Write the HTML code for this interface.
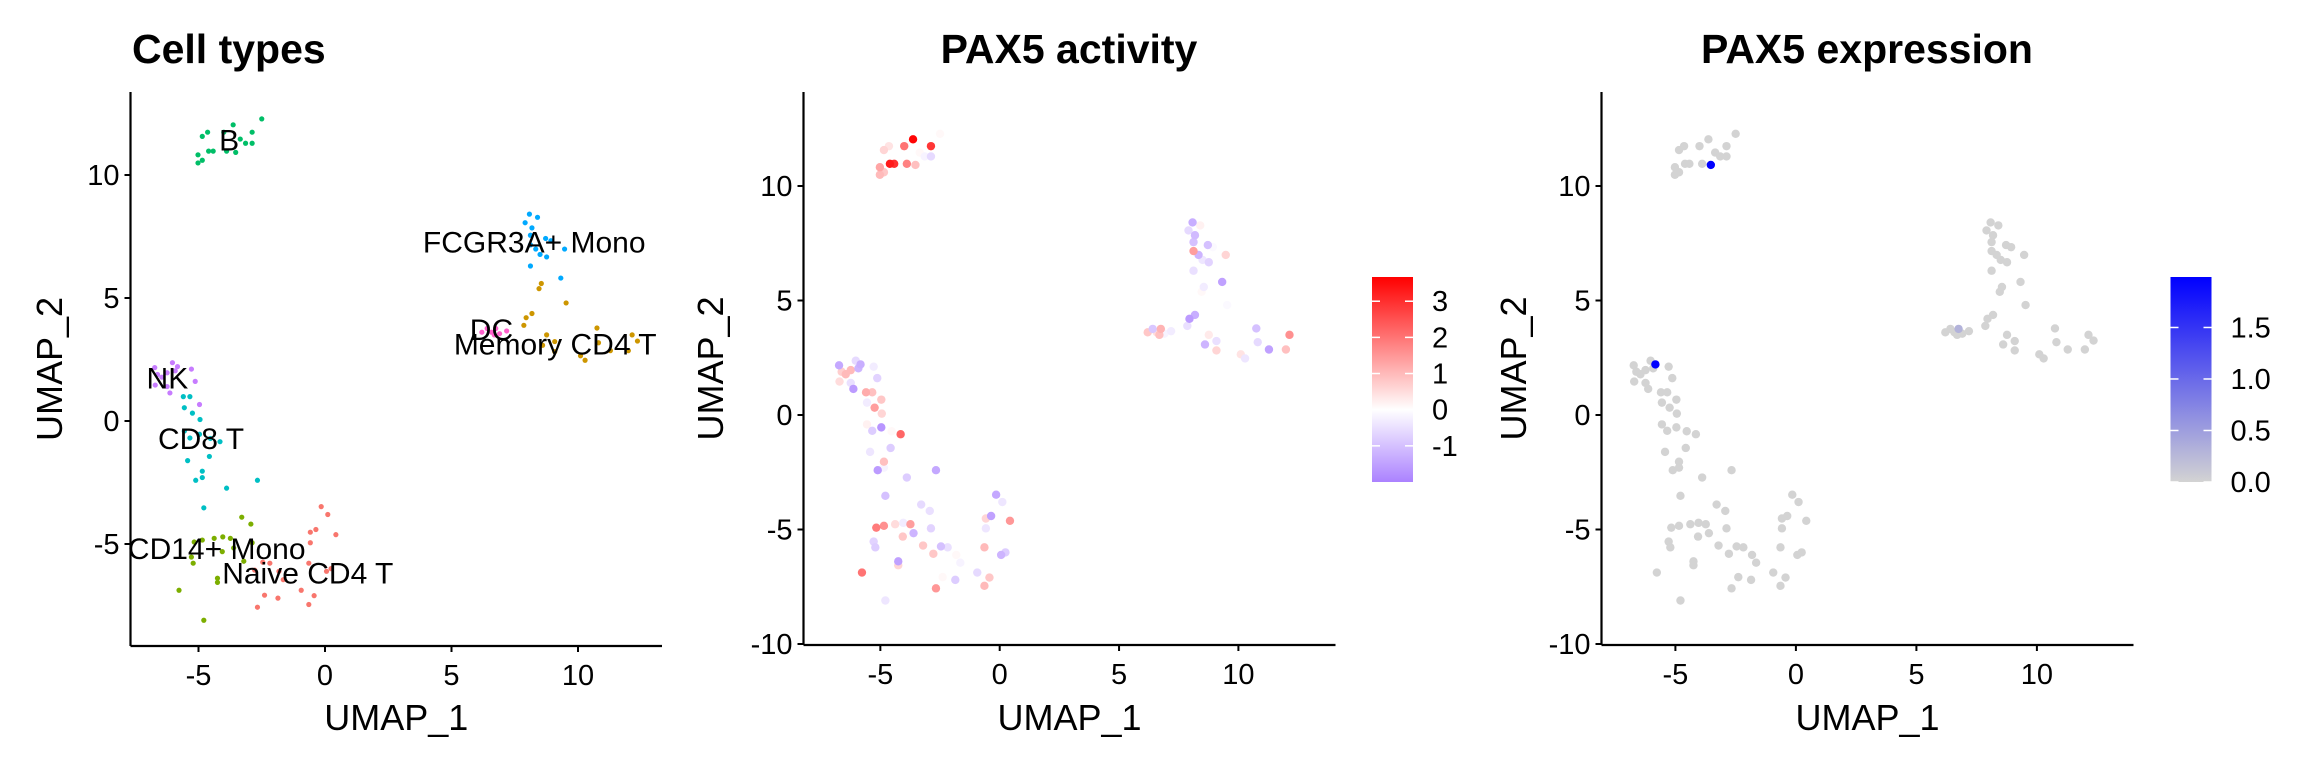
<!DOCTYPE html>
<html><head><meta charset="utf-8">
<style>
html,body{margin:0;padding:0;background:#fff;}
svg{display:block;font-family:"Liberation Sans",Arial,sans-serif;}
</style></head>
<body>
<svg id="fig" width="2304" height="768" viewBox="0 0 2304 768" xmlns="http://www.w3.org/2000/svg"></svg>
<script>
// ---- data ----
const umap1 = [
-5.02,-4.85,-5.02,-4.85,-4.64,-4.42,-4.6,-4.0,-3.89,-3.63,-3.53,-3.35,-2.88,-2.88,-3.14,-2.5,
8.08,8.4,7.91,8.18,8.12,8.12,8.33,8.72,8.93,9.47,8.5,8.76,8.12,9.32,
9.53,8.55,8.46,8.18,7.86,7.95,8.76,8.6,9.08,9.08,10.75,10.81,10.1,10.28,11.28,11.99,12.14,12.35,
6.2,6.41,6.58,6.75,6.9,7.18,6.69,
-6.73,-6.62,-6.71,-6.45,-6.03,-5.92,-6.24,-6.13,-6.24,-5.28,-5.13,-4.96,-5.83,
-5.6,-5.34,-5.56,-5.24,-4.94,-5.56,-5.34,-4.53,-4.15,-4.96,-4.57,-5.43,-4.85,-5.11,-4.85,-2.67,-3.89,-4.79,
-3.29,-2.93,-5.17,-4.85,-4.38,-4.04,-3.74,-3.61,-2.88,-5.28,-5.21,-3.21,-4.25,-4.25,-5.77,-4.79,-4.06,
-0.15,0.11,-0.36,-0.58,0.43,-0.58,-0.64,-2.46,-2.18,-1.82,-1.65,-2.78,0.06,0.24,-0.94,-0.43,-0.64,-2.39,-1.86,-2.67];
const umap2 = [
10.49,10.6,10.82,11.57,11.74,10.97,10.97,11.74,10.97,12.04,10.92,11.46,11.74,11.29,11.29,12.28,
8.41,8.28,8.06,7.85,7.55,7.16,6.99,7.42,7.33,6.99,6.77,6.67,6.3,5.81,
4.8,5.59,5.38,4.37,3.89,4.2,3.5,3.08,3.23,2.82,3.78,3.18,2.65,2.47,2.86,2.86,3.5,3.25,
3.61,3.76,3.61,3.76,3.55,3.66,3.5,
2.17,1.89,1.46,1.78,2.37,2.04,1.96,1.14,1.4,2.11,1.61,0.67,2.21,
0.99,0.99,0.54,0.32,0.06,-0.41,-0.69,-0.71,-0.84,-0.54,-1.44,-1.61,-2.04,-2.41,-2.3,-2.41,-2.73,-3.53,
-3.91,-4.19,-4.92,-4.84,-4.77,-4.71,-4.77,-5.16,-4.95,-5.53,-5.78,-5.7,-6.39,-6.56,-6.88,-8.1,-5.31,
-3.48,-3.8,-4.41,-4.52,-4.62,-4.95,-5.78,-5.74,-5.78,-6.11,-6.45,-6.06,-6.11,-6.0,-6.88,-7.1,-7.46,-7.08,-7.2,-7.57];
const cellTypeCounts = [16,14,18,7,13,18,17,20];
const cellTypes = ["B","FCGR3A+ Mono","Memory CD4 T","DC","NK","CD8 T","CD14+ Mono","Naive CD4 T"];
const activity = [
1.0,0.8,1.3,0.6,0.4,3.0,3.3,2.0,1.8,3.6,0.9,0.1,2.9,-0.6,-0.2,0.1,
-1.3,0.2,-0.6,-1.1,-1.0,1.4,-1.2,-1.0,-0.1,0.6,-0.4,-0.7,-0.5,-1.5,
-0.1,-0.3,0.1,-1.3,-0.5,-1.6,0.3,-1.2,-0.5,0.6,-1.0,-0.6,0.4,-0.4,-1.5,0.9,1.6,0.0,
0.8,-0.9,0.5,1.1,-0.2,-0.3,0.9,
-1.4,0.7,0.5,1.0,-0.6,-1.2,1.0,-1.6,-0.5,-0.3,-0.7,0.8,-1.3,
1.2,0.9,-0.3,1.4,0.6,0.2,-0.8,0.1,2.2,-1.7,-0.8,-0.4,0.9,-1.6,-0.2,-1.4,-0.8,-1.0,
-0.6,-0.5,1.9,1.6,0.5,-0.3,1.4,-1.2,-0.7,-0.7,-0.8,0.8,-1.5,0.6,2.0,-0.4,0.8,
-1.4,-0.4,-1.5,0.6,1.5,-0.4,1.0,-1.0,-0.5,0.1,-0.2,0.8,-1.2,-0.8,-0.6,0.8,1.0,0.1,-0.8,1.5];
const expression = [
0,0,0,0,0,0,0,0,0,0,1.99,0,0,0,0,0,
0,0,0,0,0,0,0,0,0,0,0,0,0,0,
0,0,0,0,0,0,0,0,0,0,0,0,0,0,0,0,0,0,
0,0,0,0.3,0,0,0,
0,0,0,0,0,0,0,0,0,0,0,0,1.99,
0,0,0,0,0,0,0,0,0,0,0,0,0,0,0,0,0,0,
0,0,0,0,0,0,0,0,0,0,0,0,0,0,0,0,0,
0,0,0,0,0,0,0,0,0,0,0,0,0,0,0,0,0,0,0,0];
const labelX = [-3.79,8.27,9.1,6.58,-6.23,-4.9,-4.28,-0.68];
const labelY = [11.44,7.3,3.16,3.74,1.76,-0.7,-5.16,-6.16];
const xTicks = [-5,0,5,10];
const yTicks1 = [-5,0,5,10];
const yTicks23 = [-10,-5,0,5,10];
const actTicks = [-1,0,1,2,3];
const expTicks = [0.0,0.5,1.0,1.5];
const clusterColors = ["#00BE67","#00A9FF","#CD9600","#FF61CC","#C77CFF","#00BFC4","#7CAE00","#F8766D"];

const NS="http://www.w3.org/2000/svg";
const svg=document.getElementById('fig');
function mk(tag,attrs,parent){const e=document.createElementNS(NS,tag);for(const k in attrs)e.setAttribute(k,attrs[k]);(parent||svg).appendChild(e);return e;}
function txt(s,attrs,parent){const e=mk('text',attrs,parent);e.textContent=s;return e;}

const cluster=[];cellTypeCounts.forEach((c,i)=>{for(let j=0;j<c;j++)cluster.push(i);});

function lerp(a,b,t){return a+(b-a)*t;}
function hex(c){return [parseInt(c.substr(1,2),16),parseInt(c.substr(3,2),16),parseInt(c.substr(5,2),16)];}
function mix(c1,c2,t){const a=hex(c1),b=hex(c2);t=Math.max(0,Math.min(1,t));return 'rgb('+a.map((v,i)=>Math.round(lerp(v,b[i],t))).join(',')+')';}
const actMin=-2.0,actMax=3.67,expMax=1.99;
function actColor(v){return v>=0?mix('#FFFFFF','#FF0000',v/actMax):mix('#FFFFFF','#AB82FF',v/actMin);}
function expColor(v){return mix('#D3D3D3','#0000FF',v/expMax);}

function panel(p){
  const g=mk('g',{});
  
  
  const sx=v=>p.x0+v*p.kx, sy=v=>p.y0-v*p.ky;
  const ax=mk('line',{x1:p.left,y1:p.bottom,x2:p.right,y2:p.bottom,stroke:'#000','stroke-width':2.2},g);
  
  const ay=mk('line',{x1:p.left,y1:p.top,x2:p.left,y2:p.bottom,stroke:'#000','stroke-width':2.2},g);
  
  xTicks.forEach(t=>{const X=sx(t);
    mk('line',{x1:X,y1:p.bottom,x2:X,y2:p.bottom+6,stroke:'#000','stroke-width':2},g);
    const l=txt(String(t),{x:X,y:p.bottom+39,'text-anchor':'middle','font-size':29,fill:'#000'},g);
    });
  p.yTicks.forEach(t=>{const Y=sy(t);
    mk('line',{x1:p.left-6,y1:Y,x2:p.left,y2:Y,stroke:'#000','stroke-width':2},g);
    const l=txt(String(t),{x:p.left-11,y:Y+10,'text-anchor':'end','font-size':29,fill:'#000'},g);
    });
  const xt=txt('UMAP_1',{x:(p.left+p.right)/2,y:730,'text-anchor':'middle','font-size':36},g);
  
  const yt=txt('UMAP_2',{x:0,y:0,'text-anchor':'middle','font-size':36,transform:`translate(${p.yTitleX},${(p.top+p.bottom)/2}) rotate(-90)`},g);
  
  const tt=txt(p.title,{x:p.titleX,y:63,'text-anchor':p.titleAnchor,'font-size':41,'font-weight':'bold'},g);
  
  const order=umap1.map((_,i)=>i);
  if(p.sortBy) order.sort((a,b)=>p.sortBy[a]-p.sortBy[b]);
  order.forEach(i=>{
    const c=mk('circle',{cx:sx(umap1[i]),cy:sy(umap2[i]),r:p.r,fill:p.color(i)},g);
    
    
  });
  return {g,sx,sy};
}

// Panel 1
const P1=panel({name:'cell-types-panel',x0:325,kx:25.3,y0:421,ky:24.6,left:130.5,right:662,top:92,bottom:646,
  yTicks:yTicks1,yTitleX:62,title:'Cell types',titleX:132,titleAnchor:'start',r:2.6,color:i=>clusterColors[cluster[i]]});
cellTypes.forEach((n,i)=>{
  const l=txt(n,{x:P1.sx(labelX[i]),y:P1.sy(labelY[i])+11,'text-anchor':'middle','font-size':30,fill:'#000'},P1.g);
  
});

// Panel 2
panel({name:'pax5-activity-panel',x0:999.7,kx:23.87,y0:415,ky:22.9,left:803.5,right:1335.5,top:92,bottom:645,
  yTicks:yTicks23,yTitleX:723,title:'PAX5 activity',titleX:1069,titleAnchor:'middle',r:4.2,
  sortBy:activity.map(Math.abs),color:i=>actColor(activity[i])});
// Panel 3
panel({name:'pax5-expression-panel',x0:1795.9,kx:24.1,y0:415,ky:22.9,left:1601.5,right:2133.5,top:92,bottom:645,
  yTicks:yTicks23,yTitleX:1526,title:'PAX5 expression',titleX:1867,titleAnchor:'middle',r:4.2,
  sortBy:expression,color:i=>expColor(expression[i])});

function colorbar(name,x,ticks,min,max,stops,fmt){
  const g=mk('g',{});
  const top=277,bot=482,w=41;const id='grad-'+name;
  const defs=mk('defs',{},g);const lg=mk('linearGradient',{id:id,x1:0,y1:1,x2:0,y2:0},defs);
  stops.forEach(s=>mk('stop',{offset:s[0],'stop-color':s[1]},lg));
  mk('rect',{x:x,y:top,width:w,height:bot-top,fill:`url(#${id})`},g);
  const sy=v=>bot-(v-min)/(max-min)*(bot-top);
  ticks.forEach(t=>{const Y=sy(t);
    mk('line',{x1:x,y1:Y,x2:x+8,y2:Y,stroke:'#fff','stroke-width':1.5},g);
    mk('line',{x1:x+w-8,y1:Y,x2:x+w,y2:Y,stroke:'#fff','stroke-width':1.5},g);
    const l=txt(fmt(t),{x:x+w+19,y:Y+10,'font-size':29},g);
    });
}
colorbar('activity-colorbar',1372,actTicks,actMin,actMax,[[0,'#AB82FF'],[(-actMin)/(actMax-actMin),'#FFFFFF'],[1,'#FF0000']],t=>String(t));
colorbar('expression-colorbar',2170.5,expTicks,0,expMax,[[0,'#D3D3D3'],[1,'#0000FF']],t=>t.toFixed(1));
</script>
</body></html>
